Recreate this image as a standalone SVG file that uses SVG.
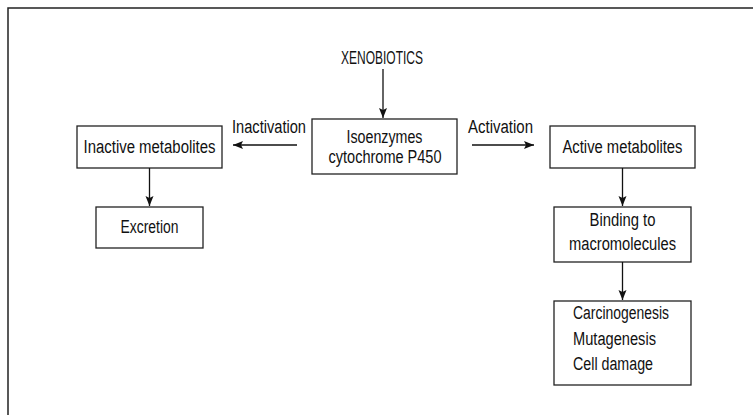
<svg xmlns="http://www.w3.org/2000/svg" width="753" height="415" viewBox="0 0 753 415">
<style>
text{font-family:"Liberation Sans",Arial,sans-serif;font-size:18px;fill:#111}
.box{fill:#fff;stroke:#222;stroke-width:1.3}
.c{text-anchor:middle}
.con{stroke:#111;stroke-width:1.3;fill:none;marker-end:url(#ah)}
</style>
<defs>
<marker id="ah" markerWidth="12" markerHeight="10" refX="10" refY="4" orient="auto" markerUnits="userSpaceOnUse">
<path d="M0,0 L10,4 L0,8 L2,4 Z" fill="#111"/>
</marker>
</defs>
<rect width="753" height="415" fill="#fff"/>
<path d="M8,415 L8,8 L753,8" fill="none" stroke="#222" stroke-width="1.5"/>
<g id="xenobiotics"><text class="c" x="382" y="64" textLength="82" lengthAdjust="spacingAndGlyphs" font-size="16.5">XENOBIOTICS</text></g>
<g id="isoenzymes"><rect class="box" x="312" y="119" width="145" height="55"/>
<text class="c" x="384.5" y="143" textLength="76" lengthAdjust="spacingAndGlyphs">Isoenzymes</text>
<text class="c" x="385" y="163" textLength="113" lengthAdjust="spacingAndGlyphs">cytochrome P450</text></g>
<g id="inactive"><rect class="box" x="77" y="126" width="145" height="42"/>
<text class="c" x="149.5" y="153" textLength="132" lengthAdjust="spacingAndGlyphs">Inactive metabolites</text></g>
<g id="excretion"><rect class="box" x="96" y="207" width="107" height="41"/>
<text class="c" x="149.5" y="233" textLength="58" lengthAdjust="spacingAndGlyphs">Excretion</text></g>
<g id="active"><rect class="box" x="550" y="126" width="145" height="42"/>
<text class="c" x="622.5" y="153" textLength="120" lengthAdjust="spacingAndGlyphs">Active metabolites</text></g>
<g id="binding"><rect class="box" x="554" y="207" width="137" height="55"/>
<text class="c" x="622.5" y="226" textLength="66" lengthAdjust="spacingAndGlyphs">Binding to</text>
<text class="c" x="622.5" y="250" textLength="107" lengthAdjust="spacingAndGlyphs">macromolecules</text></g>
<g id="effects"><rect class="box" x="554" y="301" width="137" height="84"/>
<text x="573" y="319" textLength="96" lengthAdjust="spacingAndGlyphs">Carcinogenesis</text>
<text x="573" y="345" textLength="83" lengthAdjust="spacingAndGlyphs">Mutagenesis</text>
<text x="573" y="370" textLength="80" lengthAdjust="spacingAndGlyphs">Cell damage</text></g>
<g id="labels">
<text x="232" y="133" textLength="74" lengthAdjust="spacingAndGlyphs">Inactivation</text>
<text x="468" y="133" textLength="65" lengthAdjust="spacingAndGlyphs">Activation</text>
</g>
<g id="connectors">
<line class="con" x1="383" y1="69" x2="383" y2="118"/>
<line class="con" x1="297" y1="145" x2="233" y2="145"/>
<line class="con" x1="472" y1="145" x2="534" y2="145"/>
<line class="con" x1="149.5" y1="168" x2="149.5" y2="206"/>
<line class="con" x1="622.5" y1="168" x2="622.5" y2="206"/>
<line class="con" x1="622.5" y1="262" x2="622.5" y2="300"/>
</g>
</svg>
